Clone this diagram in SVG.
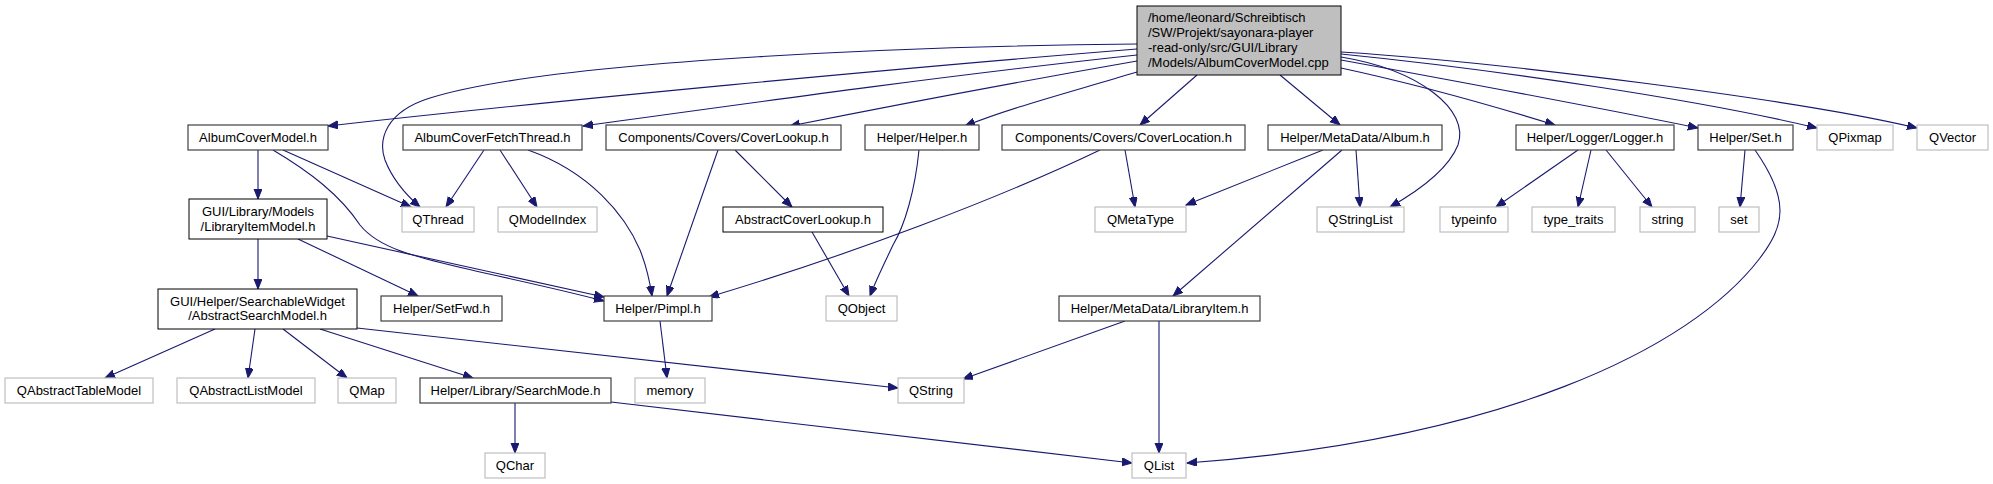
<svg xmlns="http://www.w3.org/2000/svg" width="1993" height="484" viewBox="0 0 1993 484">
<style>
text{font-family:"Liberation Sans",Arial,sans-serif;font-size:13px;fill:#000}
.c{text-anchor:middle}
.n{fill:#fff;stroke:#404040;stroke-width:1.2}
.b{fill:#fff;stroke:#000;stroke-width:1}
.g{fill:#fff;stroke:#bfbfbf;stroke-width:1.2}
.m{fill:#bfbfbf;stroke:#000;stroke-width:1}
#edges path{fill:none;stroke:#191970;stroke-width:1.1;marker-end:url(#a)}
</style>
<defs>
<marker id="a" markerWidth="11" markerHeight="9" refX="10" refY="4" orient="auto" markerUnits="userSpaceOnUse">
<path d="M0,0 L10,4 L0,8 z" fill="#191970" stroke="#191970" stroke-width="1"/>
</marker>
</defs>
<rect width="1993" height="484" fill="#fff"/>
<g id="edges">
<path d="M1137,44 C940,46 560,58 430,98 C385,112 378,140 385,160 C392,178 405,194 420,207"/>
<path d="M1137,49 C900,68 560,100 328,126"/>
<path d="M1137,55 C950,75 750,103 583,126"/>
<path d="M1137,61 C1000,85 880,108 790,126"/>
<path d="M1137,72 C1060,95 1010,108 965,126"/>
<path d="M1197,75 L1140,125"/>
<path d="M1280,75 L1340,125"/>
<path d="M1341,52 C1500,62 1800,100 1917,128"/>
<path d="M1341,54 C1500,70 1700,100 1817,128"/>
<path d="M1341,60 C1450,80 1600,108 1698,128"/>
<path d="M1341,68 C1420,85 1500,108 1555,125"/>
<path d="M1341,57 C1420,70 1470,110 1458,145 C1448,170 1420,190 1390,207"/>
<path d="M258,150 L258,199"/>
<path d="M283,150 L411,207"/>
<path d="M273,150 C310,172 340,195 360,225 C380,250 420,258 480,272 C530,283 570,292 604,301"/>
<path d="M484,150 L446,207"/>
<path d="M500,150 L537,207"/>
<path d="M528,150 C590,172 625,215 640,250 C646,265 650,283 652,296"/>
<path d="M718,150 L667,296"/>
<path d="M735,150 L792,207"/>
<path d="M812,232 L849,296"/>
<path d="M919,150 C915,190 905,225 893,245 C885,262 876,280 870,296"/>
<path d="M1125,150 L1135,207"/>
<path d="M1100,150 C1000,198 850,255 709,297"/>
<path d="M1323,150 L1186,205"/>
<path d="M1356,150 L1360,207"/>
<path d="M1342,150 L1173,296"/>
<path d="M1578,150 L1496,207"/>
<path d="M1591,150 L1578,207"/>
<path d="M1606,150 L1652,207"/>
<path d="M1745,150 L1740,207"/>
<path d="M1755,150 C1790,200 1785,225 1760,258 C1690,350 1500,440 1187,463"/>
<path d="M258,239 L258,289"/>
<path d="M298,239 L418,296"/>
<path d="M327,236 L604,297"/>
<path d="M215,329 L105,378"/>
<path d="M255,329 L248,378"/>
<path d="M283,329 L347,378"/>
<path d="M320,329 L473,378"/>
<path d="M357,328 L898,388"/>
<path d="M515,403 L515,453"/>
<path d="M611,402 L1132,463"/>
<path d="M1125,321 L963,379"/>
<path d="M1159,321 L1159,453"/>
<path d="M660,321 L667,378"/>
</g>
<g id="n_main"><rect class="m" x="1137" y="6" width="204" height="69"/><text x="1148" y="22">/home/leonard/Schreibtisch</text><text x="1148" y="37">/SW/Projekt/sayonara-player</text><text x="1148" y="52">-read-only/src/GUI/Library</text><text x="1148" y="67">/Models/AlbumCoverModel.cpp</text></g>
<g id="n_acm"><rect class="n" x="188" y="125" width="140" height="25"/><text class="c" x="258" y="142">AlbumCoverModel.h</text></g>
<g id="n_acft"><rect class="n" x="403" y="125" width="179" height="25"/><text class="c" x="492.5" y="142">AlbumCoverFetchThread.h</text></g>
<g id="n_cl"><rect class="n" x="606" y="125" width="235" height="25"/><text class="c" x="723.5" y="142">Components/Covers/CoverLookup.h</text></g>
<g id="n_helper"><rect class="n" x="865" y="125" width="114" height="25"/><text class="c" x="922" y="142">Helper/Helper.h</text></g>
<g id="n_cloc"><rect class="n" x="1002" y="125" width="243" height="25"/><text class="c" x="1123.5" y="142">Components/Covers/CoverLocation.h</text></g>
<g id="n_album"><rect class="n" x="1268" y="125" width="174" height="25"/><text class="c" x="1355" y="142">Helper/MetaData/Album.h</text></g>
<g id="n_logger"><rect class="n" x="1516" y="125" width="158" height="25"/><text class="c" x="1595" y="142">Helper/Logger/Logger.h</text></g>
<g id="n_set"><rect class="n" x="1698" y="125" width="95" height="25"/><text class="c" x="1745.5" y="142">Helper/Set.h</text></g>
<g id="n_qpixmap"><rect class="g" x="1817" y="125" width="76" height="25"/><text class="c" x="1855" y="142">QPixmap</text></g>
<g id="n_qvector"><rect class="g" x="1917" y="125" width="71" height="25"/><text class="c" x="1952.5" y="142">QVector</text></g>
<g id="n_lim"><rect class="b" x="189" y="199" width="138" height="40"/><text class="c" x="258" y="216">GUI/Library/Models</text><text class="c" x="258" y="231">/LibraryItemModel.h</text></g>
<g id="n_qthread"><rect class="g" x="402" y="207" width="72" height="25"/><text class="c" x="438" y="224">QThread</text></g>
<g id="n_qmodelindex"><rect class="g" x="498" y="207" width="99" height="25"/><text class="c" x="547.5" y="224">QModelIndex</text></g>
<g id="n_acl"><rect class="b" x="723" y="207" width="160" height="25"/><text class="c" x="803" y="224">AbstractCoverLookup.h</text></g>
<g id="n_qmetatype"><rect class="g" x="1095" y="207" width="91" height="25"/><text class="c" x="1140.5" y="224">QMetaType</text></g>
<g id="n_qstringlist"><rect class="g" x="1317" y="207" width="87" height="25"/><text class="c" x="1360.5" y="224">QStringList</text></g>
<g id="n_typeinfo"><rect class="g" x="1440" y="207" width="68" height="25"/><text class="c" x="1474" y="224">typeinfo</text></g>
<g id="n_typetraits"><rect class="g" x="1532" y="207" width="83" height="25"/><text class="c" x="1573.5" y="224">type_traits</text></g>
<g id="n_string"><rect class="g" x="1640" y="207" width="55" height="25"/><text class="c" x="1667.5" y="224">string</text></g>
<g id="n_setstd"><rect class="g" x="1719" y="207" width="40" height="25"/><text class="c" x="1739" y="224">set</text></g>
<g id="n_asm"><rect class="b" x="158" y="289" width="199" height="40"/><text class="c" x="257.5" y="306">GUI/Helper/SearchableWidget</text><text class="c" x="257.5" y="320">/AbstractSearchModel.h</text></g>
<g id="n_setfwd"><rect class="n" x="381" y="296" width="121" height="25"/><text class="c" x="441.5" y="313">Helper/SetFwd.h</text></g>
<g id="n_pimpl"><rect class="n" x="604" y="296" width="108" height="25"/><text class="c" x="658" y="313">Helper/Pimpl.h</text></g>
<g id="n_qobject"><rect class="g" x="826" y="296" width="71" height="25"/><text class="c" x="861.5" y="313">QObject</text></g>
<g id="n_libitem"><rect class="n" x="1059" y="296" width="201" height="25"/><text class="c" x="1159.5" y="313">Helper/MetaData/LibraryItem.h</text></g>
<g id="n_qatm"><rect class="g" x="5" y="378" width="148" height="25"/><text class="c" x="79" y="395">QAbstractTableModel</text></g>
<g id="n_qalm"><rect class="g" x="177" y="378" width="138" height="25"/><text class="c" x="246" y="395">QAbstractListModel</text></g>
<g id="n_qmap"><rect class="g" x="338" y="378" width="58" height="25"/><text class="c" x="367" y="395">QMap</text></g>
<g id="n_searchmode"><rect class="n" x="420" y="378" width="191" height="25"/><text class="c" x="515.5" y="395">Helper/Library/SearchMode.h</text></g>
<g id="n_memory"><rect class="g" x="635" y="378" width="70" height="25"/><text class="c" x="670" y="395">memory</text></g>
<g id="n_qstring"><rect class="g" x="898" y="378" width="66" height="25"/><text class="c" x="931" y="395">QString</text></g>
<g id="n_qchar"><rect class="g" x="485" y="453" width="60" height="25"/><text class="c" x="515" y="470">QChar</text></g>
<g id="n_qlist"><rect class="g" x="1132" y="453" width="54" height="25"/><text class="c" x="1159" y="470">QList</text></g>
</svg>
